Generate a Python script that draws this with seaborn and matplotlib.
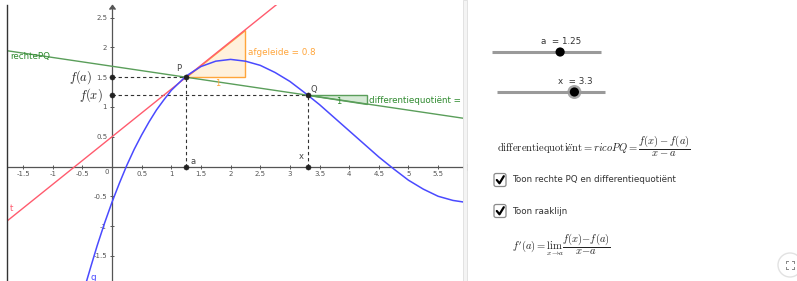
import numpy as np
import pandas as pd
import seaborn as sns
import matplotlib.pyplot as plt
from matplotlib.patches import Polygon, Rectangle, FancyBboxPatch, Circle

# ---- data ----
a_val = 1.25
x_val = 3.3
f_a = 1.5
f_x = 1.2
afgeleide = 0.8
diffquot = -0.15

# curve g
g_x = [-0.43, -0.35, -0.25, -0.125, 0.0, 0.125, 0.25, 0.375, 0.5, 0.625, 0.75, 0.875,
       1.0, 1.25, 1.5, 1.75, 2.0, 2.25, 2.5, 2.75, 3.0, 3.25, 3.5, 3.75, 4.0, 4.25,
       4.5, 4.75, 5.0, 5.25, 5.5, 5.75, 5.95]
g_y = [-1.93, -1.66, -1.33, -0.95, -0.60, -0.28, 0.02, 0.29, 0.53, 0.75, 0.95, 1.12,
       1.28, 1.52, 1.68, 1.77, 1.80, 1.77, 1.70, 1.58, 1.43, 1.24, 1.04, 0.82, 0.60, 0.38,
       0.16, -0.04, -0.23, -0.38, -0.50, -0.57, -0.60]

# tangent t and secant PQ (end points at the frame edges)
t_x = [-1.8, 3.0]
t_y = [-0.94, 2.90]
pq_x = [-1.8, 6.0]
pq_y = [1.95, 0.80]

x_ticks = [-1.5, -1, -0.5, 0.5, 1, 1.5, 2, 2.5, 3, 3.5, 4, 4.5, 5, 5.5]
y_ticks = [-1.5, -1, -0.5, 0.5, 1, 1.5, 2, 2.5]

BLUE = '#4a4aff'
RED = '#ff5b6e'
GREEN = '#5a9e5a'
DGREEN = '#2f8a2f'
ORANGE = '#ffa53a'
GREY = '#555555'

plt.rcParams['mathtext.fontset'] = 'cm'
plt.rcParams['font.family'] = ['DejaVu Sans']

W, H = 797, 281
fig = plt.figure(figsize=(W / 100, H / 100), dpi=100)
ax = fig.add_axes([8 / W, 0, (463 - 8) / W, (281 - 5) / H])
ax.set_xlim(-1.754, 5.92)
ax.set_ylim(-1.924, 2.714)

# axes through the origin
for s in ['top', 'right']:
    ax.spines[s].set_visible(False)
ax.spines['left'].set_position(('data', 0))
ax.spines['bottom'].set_position(('data', 0))
for s in ['left', 'bottom']:
    ax.spines[s].set_color(GREY)
    ax.spines[s].set_linewidth(0.9)
ax.set_xticks(x_ticks)
ax.set_yticks(y_ticks)
ax.set_xticklabels([f'{v:g}' for v in x_ticks])
ax.set_yticklabels([f'{v:g}' for v in y_ticks])
ax.tick_params(axis='both', direction='inout', length=3, width=0.7, color=GREY,
               labelsize=5, labelcolor=GREY, pad=2)
ax.text(-0.05, -0.05, '0', fontsize=5, color=GREY, ha='right', va='top')
ax.plot(1, 0, marker=4, ms=4, color=GREY, transform=ax.get_yaxis_transform(), clip_on=False)
ax.plot(0, 1, marker=6, ms=4, color=GREY, transform=ax.get_xaxis_transform(), clip_on=False)

# slope triangles
ax.add_patch(Polygon([(a_val, f_a), (a_val + 1, f_a), (a_val + 1, f_a + afgeleide)],
                     closed=True, facecolor='#fff1dc', edgecolor=ORANGE, lw=1.0, zorder=1))
ax.add_patch(Polygon([(x_val, f_x), (x_val + 1, f_x), (x_val + 1, f_x + diffquot)],
                     closed=True, facecolor='#d6ead6', edgecolor=GREEN, lw=1.0, zorder=1))

# dashed helper lines
dash = dict(color='#333333', lw=0.8, ls=(0, (3, 2.5)), zorder=2)
ax.plot([0, a_val], [f_a, f_a], **dash)
ax.plot([a_val, a_val], [0, f_a], **dash)
ax.plot([0, x_val], [f_x, f_x], **dash)
ax.plot([x_val, x_val], [0, f_x], **dash)

# lines
sns.lineplot(x=pq_x, y=pq_y, ax=ax, color=GREEN, lw=1.0, zorder=3)
sns.lineplot(x=t_x, y=t_y, ax=ax, color=RED, lw=1.0, zorder=3)
sns.lineplot(x=g_x, y=g_y, ax=ax, color=BLUE, lw=1.1, zorder=4)

# points
pts = pd.DataFrame({'x': [a_val, x_val, 0, 0, a_val, x_val],
                    'y': [f_a, f_x, f_a, f_x, 0, 0]})
sns.scatterplot(data=pts, x='x', y='y', ax=ax, color='#222222', s=14,
                edgecolor='#222222', zorder=6, clip_on=False)
ax.set_xlabel('')
ax.set_ylabel('')

lab = dict(fontsize=6, color='#444444')
ax.text(1.13, 1.64, 'P', ha='center', va='center', **lab)
ax.text(3.40, 1.30, 'Q', ha='center', va='center', **lab)
ax.text(1.33, 0.08, 'a', ha='left', va='center', **lab)
ax.text(3.19, 0.16, 'x', ha='center', va='center', **lab)
ax.text(1.79, 1.40, '1', ha='center', va='center', fontsize=6, color=ORANGE)
ax.text(3.83, 1.10, '1', ha='center', va='center', fontsize=6, color=DGREEN)
ax.text(2.29, 1.92, f'afgeleide = {afgeleide:g}', ha='left', va='center',
        fontsize=6.3, color=ORANGE)
ax.text(4.34, 1.11, f'differentiequotiënt = {diffquot:g}', ha='left', va='center',
        fontsize=6.3, color=DGREEN, clip_on=True)
ax.text(-1.71, 1.85, 'rechtePQ', ha='left', va='center', fontsize=6.3, color=DGREEN)
ax.text(-1.70, -0.70, 't', ha='center', va='center', fontsize=6.3, color=RED)
ax.text(-0.32, -1.86, 'g', ha='center', va='center', fontsize=6.3, color=BLUE)
ax.text(-0.33, f_a, '$f(a)$', ha='right', va='center', fontsize=9, color='#222222')
ax.text(-0.16, f_x, '$f(x)$', ha='right', va='center', fontsize=9, color='#222222')

# ---- right panel, pixel coordinates ----
ov = fig.add_axes([0, 0, 1, 1], facecolor='none')
ov.set_xlim(0, W)
ov.set_ylim(H, 0)
ov.axis('off')

ov.plot([7, 7], [5, H], color='#333333', lw=1.0)
ov.add_patch(Rectangle((463, 0), 4, H, facecolor='#f4f4f4', edgecolor='#dedede', lw=0.6))

# sliders
sliders = [('a', a_val, (0, 2), 492, 601, 52, False),
           ('x', x_val, (-1, 5), 497, 605, 92, True)]
for name, val, (lo, hi), x0, x1, yy, halo in sliders:
    ov.plot([x0, x1], [yy, yy], color='#9a9a9a', lw=2.2, solid_capstyle='butt')
    kx = x0 + (val - lo) / (hi - lo) * (x1 - x0)
    if halo:
        ov.add_patch(Circle((kx, yy), 7, facecolor='#a8a8a8', edgecolor='none'))
    ov.add_patch(Circle((kx, yy), 4.6, facecolor='black', edgecolor='none', zorder=5))
    ov.text(kx + 1, yy - 11, f'{name}  = {val:g}', ha='center', va='center',
            fontsize=6.3, color='#333333')

ov.text(497, 146, r'$\mathrm{differentiequoti\ddot{e}nt} = ricoPQ = \dfrac{f(x)-f(a)}{x-a}$',
        ha='left', va='center', fontsize=7.6, color='#222222')

for yy, txt in [(180, 'Toon rechte PQ en differentiequotiënt'), (211, 'Toon raaklijn')]:
    ov.add_patch(FancyBboxPatch((494, yy - 6.5), 12, 13, boxstyle='round,pad=0,rounding_size=2',
                                facecolor='white', edgecolor='#8a8a8a', lw=0.9))
    ov.plot([496.8, 499.5, 503.8], [yy, yy + 3.3, yy - 3.8], color='black', lw=1.6,
            solid_capstyle='round', solid_joinstyle='round')
    ov.text(512, yy, txt, ha='left', va='center', fontsize=6.3, color='#333333')

ov.text(512, 245, r"$f'(a) = \lim_{x\to a}\dfrac{f(x)-f(a)}{x-a}$",
        ha='left', va='center', fontsize=7.6, color='#222222')

ov.add_patch(Circle((790, 265), 12, facecolor='white', edgecolor='#e2e2e2', lw=1.0, clip_on=False))
for sx, sy in [(-1, -1), (1, -1), (-1, 1), (1, 1)]:
    cx, cy = 790 + sx * 4, 265 + sy * 4
    ov.plot([cx, cx - sx * 2], [cy, cy], color='#888888', lw=0.7)
    ov.plot([cx, cx], [cy, cy - sy * 2], color='#888888', lw=0.7)

fig.savefig('out.png', dpi=100)
